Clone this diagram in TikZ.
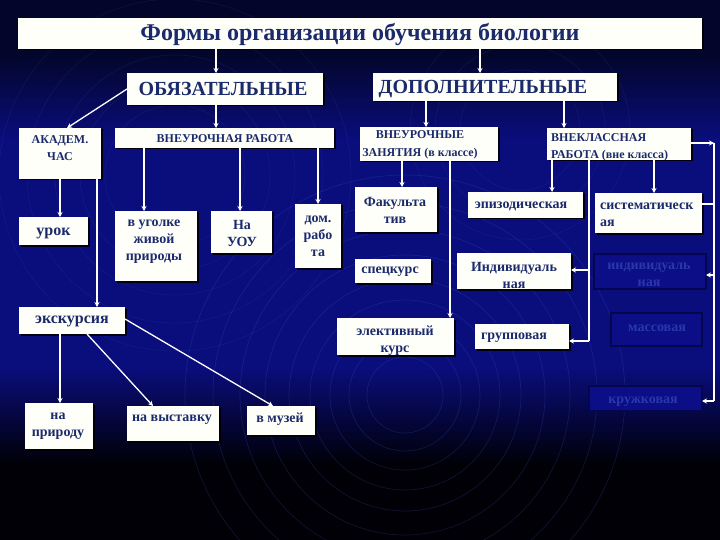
\documentclass[tikz,border=0pt]{standalone}
\usepackage{fontspec}
\setmainfont{Liberation Serif}
\usetikzlibrary{shadows,arrows.meta,calc}
\definecolor{bgtop}{HTML}{03062A}
\definecolor{bgmid}{HTML}{0A0D7C}
\definecolor{bgbot}{HTML}{000006}
\definecolor{boxw}{HTML}{FFFFFA}
\definecolor{tblue}{HTML}{1B2A6B}
\definecolor{fadefill}{HTML}{0B0E86}
\definecolor{fadeedge}{HTML}{05074E}
\definecolor{fadetext}{HTML}{2A38AC}
\definecolor{ringc}{HTML}{4A66D8}
\pgfdeclareverticalshading{bgshade}{100bp}{color(0bp)=(bgbot); color(25bp)=(bgbot); color(32bp)=(bgbot); color(41bp)=(bgmid); color(62bp)=(bgmid); color(70bp)=(bgtop); color(75bp)=(bgtop); color(100bp)=(bgtop)}
\newcommand\mkbox[6][box]{\node[#1, minimum width={#5-#3}, minimum height={#6-#4}] (#2) at (#3,#4) {};}
\begin{document}
\begin{tikzpicture}[x=1pt,y=-1pt,
  box/.style={draw=none, fill=boxw, inner sep=0pt, outer sep=0pt, anchor=north west,
    drop shadow={shadow xshift=1.5pt, shadow yshift=-1.5pt, fill=black, opacity=0.85}},
  fbox/.style={draw=fadeedge, line width=2pt, fill=fadefill, inner sep=0pt, outer sep=0pt, anchor=north west},
  txt/.style={text=tblue, font=\bfseries\fontsize{14}{17}\selectfont, align=center, inner sep=0pt},
  btxt/.style={txt, font=\bfseries\fontsize{16}{19}\selectfont},
  stxt/.style={txt, font=\bfseries\fontsize{12}{17.5}\selectfont},
  ftxt/.style={txt, text=fadetext},
  arr/.style={draw=white, line width=1.3pt, -{Stealth[length=5pt,width=5pt]}},
  ln/.style={draw=white, line width=1.3pt},
  ringline/.style={draw=ringc, line width=0.7pt, opacity=0.2}]
\useasboundingbox (0,0) rectangle (720,540);
\fill[shading=bgshade] (0,0) rectangle (720,540);
\begin{scope}
\clip (0,0) rectangle (720,540);
\foreach \r in {38,56,75,95,116,140,165,192,220} \draw[ringline] (405,395) circle (\r);
\foreach \r in {70,95,120,148,176} \draw[ringline, opacity=0.12] (175,175) circle (\r);
\foreach \r in {60,85,110} \draw[ringline, opacity=0.12] (520,130) circle (\r);
\end{scope}

% boxes
\mkbox{title}{18}{18}{702}{49}
\mkbox{obyaz}{127}{73}{323}{105}
\mkbox{dop}{373}{73}{617}{101}
\mkbox{akad}{19}{128}{101}{179}
\mkbox{vneur}{115}{128}{334}{148}
\mkbox{vneurz}{360}{127}{498}{161}
\mkbox{vnekl}{547}{128}{691}{160}
\mkbox{urok}{19}{217}{88}{245}
\mkbox{ugolok}{115}{211}{197}{281}
\mkbox{uou}{211}{211}{272}{253}
\mkbox{dom}{295}{204}{341}{268}
\mkbox{fakult}{355}{187}{437}{232}
\mkbox{spec}{355}{259}{431}{283}
\mkbox{elekt}{337}{318}{454}{355}
\mkbox{epizod}{468}{192}{583}{218}
\mkbox{sistem}{595}{193}{702}{233}
\mkbox{indiv}{457}{253}{571}{289}
\mkbox{grupp}{475}{324}{569}{349}
\mkbox[fbox]{indivb}{594}{254}{706}{289}
\mkbox[fbox]{massov}{611}{313}{702}{346}
\mkbox[fbox]{kruzh}{589}{386}{702}{411}
\mkbox{ekskurs}{19}{307}{125}{334}
\mkbox{naprir}{25}{403}{93}{449}
\mkbox{navyst}{127}{406}{219}{441}
\mkbox{muzei}{247}{406}{315}{435}

% texts
\node[txt, font=\bfseries\fontsize{24}{28}\selectfont] (titleT) at (360,35) {Формы организации обучения биологии};
\node[txt, font=\bfseries\fontsize{20}{24}\selectfont] (obyazT) at (223,89) {ОБЯЗАТЕЛЬНЫЕ};
\node[txt, font=\bfseries\fontsize{20}{24}\selectfont] (dopT) at (483,89) {ДОПОЛНИТЕЛЬНЫЕ};
\node[stxt] (akadT) at (60,148) {АКАДЕМ.\\ЧАС};
\node[stxt] (vneurT) at (225,138.5) {ВНЕУРОЧНАЯ РАБОТА};
\node[stxt] (vneurzT) at (420,145) {ВНЕУРОЧНЫЕ\\ЗАНЯТИЯ (в классе)};
\node[stxt, align=left, anchor=west] (vneklT) at (551,147.5) {ВНЕКЛАССНАЯ\\РАБОТА (вне класса)};
\node[btxt] (urokT) at (53.5,233) {урок};
\node[txt] (ugolokT) at (154,242) {в уголке\\живой\\природы};
\node[txt] (uouT) at (242,233) {На\\УОУ};
\node[txt] (domT) at (318,236) {дом.\\рабо\\та};
\node[txt] (fakultT) at (395,210) {Факульта\\тив};
\node[txt] (specT) at (390,272) {спецкурс};
\node[txt] (elektT) at (395,341) {элективный\\курс};
\node[txt] (epizodT) at (521,206) {эпизодическая};
\node[txt, align=left, anchor=west] (sistemT) at (600,215) {систематическ\\ая};
\node[txt] (indivT) at (514,275) {Индивидуаль\\ная};
\node[txt] (gruppT) at (514,338) {групповая};
\node[ftxt] (indivbT) at (649,275) {индивидуаль\\ная};
\node[ftxt] (massovT) at (657,328) {массовая};
\node[ftxt] (kruzhT) at (643,402) {кружковая};
\node[btxt] (ekskursT) at (72,321) {экскурсия};
\node[txt] (naprirT) at (58,426) {на\\природу};
\node[txt] (navystT) at (172,420) {на выставку};
\node[txt] (muzeiT) at (280,419) {в музей};

% connectors
\draw[arr] (title.south -| 216,0) -- (obyaz.north -| 216,0);
\draw[arr] (title.south -| 480,0) -- (dop.north -| 480,0);
\draw[arr] (obyaz.west |- 0,89) -- (akad.north -| 67,0);
\draw[arr] (obyaz.south -| 216,0) -- (vneur.north -| 216,0);
\draw[arr] (dop.south -| 426,0) -- (vneurz.north -| 426,0);
\draw[arr] (dop.south -| 564,0) -- (vnekl.north -| 564,0);
\draw[arr] (akad.south -| 60,0) -- (urok.north -| 60,0);
\draw[arr] (akad.south -| 97,0) -- (ekskurs.north -| 97,0);
\draw[arr] (vneur.south -| 144,0) -- (ugolok.north -| 144,0);
\draw[arr] (vneur.south -| 240,0) -- (uou.north -| 240,0);
\draw[arr] (vneur.south -| 318,0) -- (dom.north -| 318,0);
\draw[arr] (vneurz.south -| 402,0) -- (fakult.north -| 402,0);
\draw[arr] (vneurz.south -| 450,0) -- (elekt.north -| 450,0);
\draw[arr] (vnekl.south -| 552,0) -- (epizod.north -| 552,0);
\draw[arr] (vnekl.south -| 654,0) -- (sistem.north -| 654,0);
\coordinate (lbot) at (589,341);
\draw[ln] (vnekl.south -| lbot) -- (lbot);
\draw[arr] (lbot |- 0,270) -- (indiv.east |- 0,270);
\draw[arr] (lbot) -- (grupp.east |- lbot);
\coordinate (rtop) at (714,143);
\coordinate (rbot) at (714,401);
\draw[arr] (vnekl.east |- rtop) -- (rtop);
\draw[ln] (rtop) -- (rbot);
\draw[ln] (sistem.east |- 0,204) -- (rtop |- 0,204);
\draw[arr] (rtop |- 0,275) -- (indivb.east |- 0,275);
\draw[arr] (rbot) -- (kruzh.east |- rbot);
\draw[arr] (ekskurs.south -| 60,0) -- (naprir.north -| 60,0);
\draw[arr] (ekskurs.south -| 87,0) -- (navyst.north -| 153,0);
\draw[arr] (ekskurs.east |- 0,319) -- (muzei.north -| 273,0);
\end{tikzpicture}
\end{document}
